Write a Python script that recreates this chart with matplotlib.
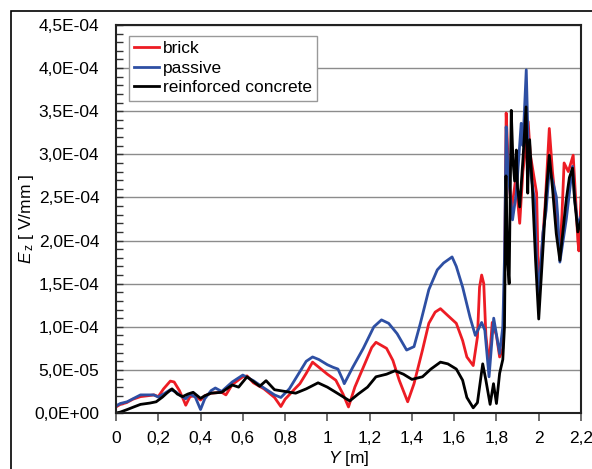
import numpy as np
import matplotlib
matplotlib.use("Agg")
import matplotlib.pyplot as plt
from matplotlib.ticker import MultipleLocator, FuncFormatter
from matplotlib.patches import Rectangle

plt.rcParams['font.family'] = ['Liberation Sans', 'DejaVu Sans']
plt.rcParams['mathtext.fontset'] = 'custom'
plt.rcParams['mathtext.rm'] = 'Liberation Sans'
plt.rcParams['mathtext.it'] = 'Liberation Sans:italic'

# ---- data (values in units of 1e-5 V/mm) ----
x_brick = [0, 0.02, 0.05, 0.08, 0.116, 0.15, 0.18, 0.2, 0.225, 0.257, 0.275, 0.3, 0.32, 0.33,
           0.35, 0.375, 0.4, 0.42, 0.45, 0.5, 0.52, 0.55, 0.6, 0.62, 0.65, 0.7, 0.75, 0.78,
           0.8, 0.85, 0.87, 0.9, 0.93, 0.96, 1.0, 1.04, 1.074, 1.1, 1.13, 1.177, 1.21, 1.23,
           1.28, 1.31, 1.34, 1.38, 1.41, 1.45, 1.48, 1.51, 1.535, 1.57, 1.61, 1.64, 1.66,
           1.69, 1.71, 1.72, 1.73, 1.74, 1.75, 1.765, 1.78, 1.80, 1.815, 1.83, 1.838, 1.846,
           1.855, 1.87, 1.89, 1.9, 1.91, 1.925, 1.94, 1.95, 1.96, 1.99, 2.0, 2.015, 2.03,
           2.05, 2.065, 2.083, 2.095, 2.10, 2.11, 2.12, 2.14, 2.163, 2.175, 2.185, 2.19, 2.2]
y_brick = [0.7, 1.0, 1.2, 1.6, 1.9, 2.0, 2.1, 1.9, 2.8, 3.7, 3.6, 2.6, 1.5, 0.9,
           1.9, 2.0, 1.5, 2.0, 2.3, 2.4, 2.1, 3.3, 4.2, 4.3, 3.5, 2.8, 1.8, 0.75,
           1.6, 2.9, 3.4, 4.6, 5.9, 5.3, 4.5, 3.8, 2.2, 0.7, 3.0, 5.7, 7.6, 8.2,
           7.5, 6.1, 3.8, 1.3, 3.4, 7.3, 10.4, 11.7, 12.1, 11.3, 10.4, 8.4, 6.5,
           5.5, 8.8, 14.6, 16.0, 15.0, 9.0, 5.5, 10.5, 9.0, 6.5, 7.5, 15.0, 34.8,
           29.3, 23.2, 27.0, 24.7, 22.0, 28.0, 31.0, 33.8, 30.0, 25.5, 14.0, 19.0, 24.0,
           33.0, 28.0, 23.6, 19.6, 18.5, 23.0, 29.0, 28.0, 29.9, 24.7, 20.0, 18.8, 25.0]

x_passive = [0, 0.02, 0.053, 0.084, 0.116, 0.147, 0.178, 0.2, 0.225, 0.257, 0.28, 0.305, 0.33,
             0.35, 0.375, 0.4, 0.42, 0.45, 0.47, 0.5, 0.55, 0.6, 0.65, 0.7, 0.75, 0.78, 0.82,
             0.85, 0.87, 0.9, 0.93, 0.96, 1.0, 1.027, 1.05, 1.074, 1.08, 1.12, 1.17, 1.22,
             1.256, 1.29, 1.33, 1.375, 1.41, 1.44, 1.48, 1.52, 1.55, 1.59, 1.61, 1.64, 1.675,
             1.70, 1.73, 1.745, 1.765, 1.787, 1.815, 1.83, 1.838, 1.846, 1.855, 1.876, 1.894,
             1.917, 1.925, 1.941, 1.95, 1.96, 1.98, 1.99, 2.0, 2.02, 2.035, 2.05, 2.065, 2.083,
             2.09, 2.1, 2.13, 2.145, 2.16, 2.17, 2.185, 2.2]
y_passive = [0.8, 1.1, 1.3, 1.7, 2.1, 2.1, 2.1, 1.85, 2.2, 2.7, 2.5, 2.0, 1.65,
             2.2, 1.85, 0.4, 1.65, 2.6, 2.9, 2.5, 3.6, 4.4, 3.75, 2.9, 2.1, 1.8, 2.8,
             4.0, 4.8, 6.0, 6.5, 6.2, 5.6, 5.3, 5.1, 3.8, 3.4, 5.3, 7.5, 10.0,
             10.8, 10.4, 9.2, 7.3, 7.7, 10.4, 14.3, 16.6, 17.4, 18.1, 17.0, 14.6, 11.1,
             9.0, 10.5, 9.6, 4.2, 11.0, 6.9, 10.0, 18.0, 33.2, 28.0, 22.4, 25.5,
             33.6, 31.0, 39.8, 31.3, 28.2, 24.7, 17.7, 13.7, 20.9, 23.5, 28.2, 27.0, 25.1,
             22.8, 17.5, 22.4, 25.5, 28.6, 24.7, 21.8, 22.8]

x_concrete = [0, 0.02, 0.053, 0.084, 0.116, 0.16, 0.19, 0.22, 0.24, 0.265, 0.29, 0.315, 0.34,
              0.365, 0.39, 0.4, 0.42, 0.45, 0.5, 0.55, 0.58, 0.62, 0.68, 0.71, 0.75, 0.8,
              0.85, 0.9, 0.956, 1.0, 1.04, 1.106, 1.146, 1.19, 1.23, 1.28, 1.32, 1.36, 1.40,
              1.45, 1.49, 1.535, 1.57, 1.61, 1.64, 1.66, 1.69, 1.71, 1.735, 1.75, 1.77, 1.786,
              1.80, 1.815, 1.83, 1.838, 1.845, 1.852, 1.86, 1.87, 1.878, 1.886, 1.894, 1.90,
              1.91, 1.925, 1.94, 1.948, 1.95, 1.957, 1.97, 1.985, 2.0, 2.02, 2.035, 2.05, 2.065,
              2.083, 2.10, 2.13, 2.145, 2.16, 2.17, 2.185, 2.2]
y_concrete = [0.0, 0.1, 0.4, 0.7, 1.0, 1.15, 1.3, 1.85, 2.3, 2.8, 2.2, 1.9, 2.2,
              2.4, 1.9, 1.7, 2.0, 2.3, 2.4, 3.25, 3.0, 4.2, 3.1, 3.75, 2.7, 2.5,
              2.3, 2.8, 3.5, 3.0, 2.4, 1.4, 2.2, 3.0, 4.2, 4.5, 4.9, 4.5, 3.9,
              4.2, 5.1, 5.9, 5.7, 5.1, 3.8, 1.8, 0.6, 1.2, 5.7, 3.8, 1.0, 3.4,
              1.1, 4.6, 6.2, 10.0, 27.5, 18.0, 15.0, 35.1, 29.3, 26.9, 30.5, 26.1,
              23.9, 29.3, 35.5, 25.5, 28.0, 31.7, 26.0, 17.7, 10.9, 19.0, 25.3, 29.9, 26.1,
              20.8, 17.7, 24.7, 27.3, 28.4, 24.7, 21.0, 22.4]

series_names = ['brick', 'passive', 'reinforced concrete']
series_colors = ['#ED1C24', '#2E4FA3', '#000000']
scale = 1e-5

fig = plt.figure(figsize=(5.92, 4.69), dpi=100)
ax = fig.add_axes([116/592, 1-413/469, (581-116)/592, (413-25)/469])

for xs, ys, name, c in zip([x_brick, x_passive, x_concrete],
                           [y_brick, y_passive, y_concrete],
                           series_names, series_colors):
    ax.plot(xs, np.array(ys) * scale, color=c, lw=2.0, label=name)

ax.set_xlim(0, 2.2)
ax.set_ylim(0, 4.5e-4)
ax.yaxis.set_major_locator(MultipleLocator(5e-5))
ax.yaxis.set_minor_locator(MultipleLocator(1e-5))
ax.xaxis.set_major_locator(MultipleLocator(0.2))

def yfmt(v, pos):
    return f"{v:.1E}".replace('.', ',')

def xfmt(v, pos):
    s = f"{round(v, 1):g}"
    return s.replace('.', ',')

ax.yaxis.set_major_formatter(FuncFormatter(yfmt))
ax.xaxis.set_major_formatter(FuncFormatter(xfmt))

ax.grid(axis='y', which='major', color='#8c8c8c', lw=1.0)
ax.set_axisbelow(True)
ax.tick_params(axis='y', which='both', direction='in', length=5, width=1, color='#333333',
               labelsize=12.5, pad=12)
ax.tick_params(axis='x', which='major', direction='out', length=6, width=1.2, color='#555555',
               labelsize=12.5, pad=7)
for sp in ax.spines.values():
    sp.set_linewidth(1.5)
    sp.set_color('#222222')

ax.set_ylabel(r'$\mathit{E}_{\,\mathrm{z}}$ [ V/mm ]', fontsize=12.5, va='center')
ax.yaxis.set_label_coords((27 - 116) / 465, 0.5)
ax.set_xlabel(r'$\mathit{Y}$ [m]', fontsize=12.5, va='center')
ax.xaxis.set_label_coords(0.5, (413 - 458) / 388)

leg = ax.legend(loc='upper left', bbox_to_anchor=(13/465, 1-11/388), fontsize=12.5,
                frameon=True, fancybox=False, edgecolor='#999999', framealpha=1,
                handlelength=1.4, handletextpad=0.25, borderpad=0.3, labelspacing=0.25,
                borderaxespad=0)
leg.get_frame().set_linewidth(1.0)

fig.patches.append(Rectangle((11/592, -0.1), 1.2, 1.1 - 11/469,
                             transform=fig.transFigure, fill=False, edgecolor='black',
                             lw=1.2))

fig.savefig('out.png', dpi=100)
